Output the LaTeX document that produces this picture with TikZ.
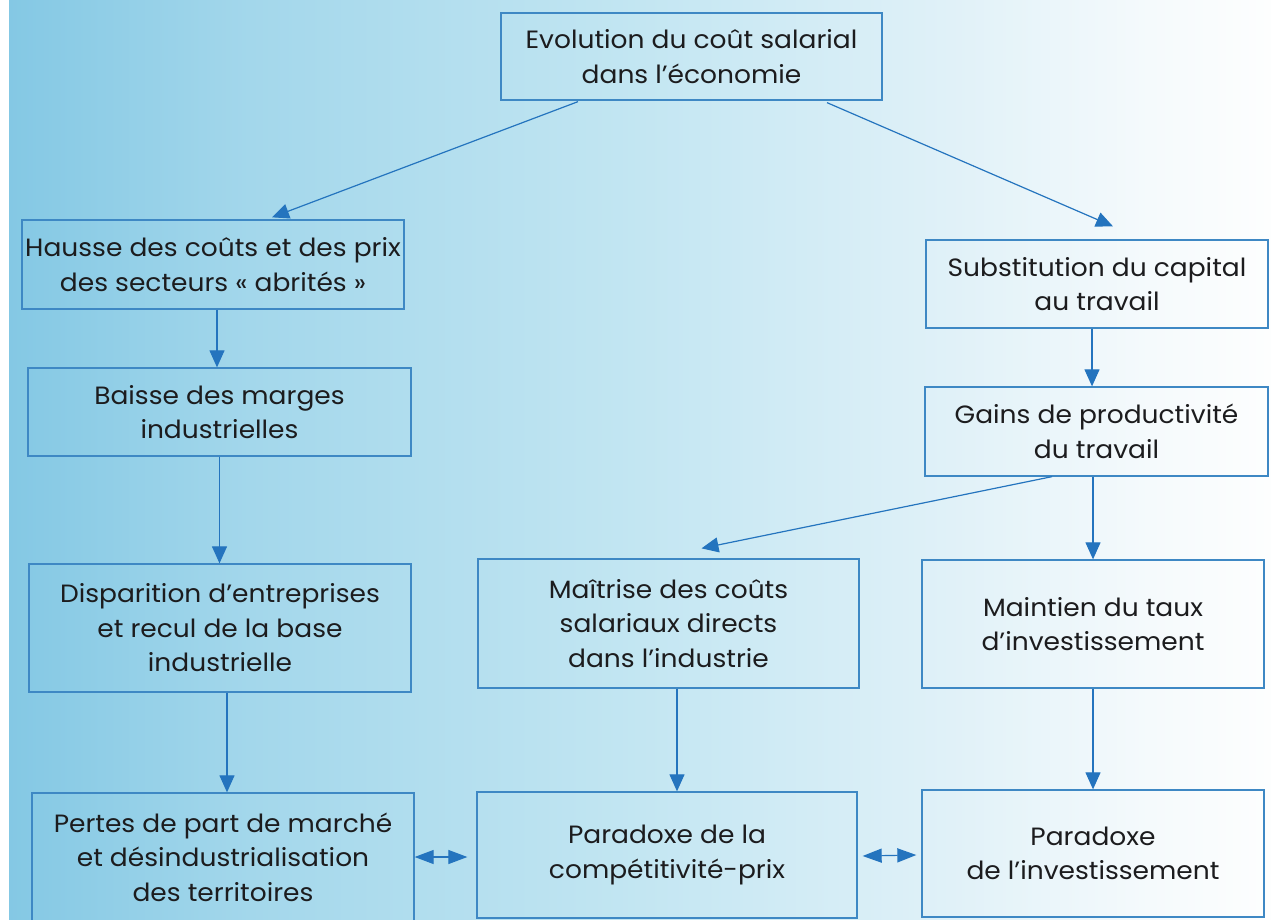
\documentclass[tikz,border=0pt]{standalone}
\usepackage{fontspec}
\setmainfont[Ligatures=NoCommon,FakeStretch=1.06]{Poppins}
\usetikzlibrary{arrows.meta,calc}
\definecolor{boxc}{RGB}{62,136,196}
\definecolor{arrc}{RGB}{36,116,190}
\definecolor{txt}{RGB}{28,28,30}
\definecolor{bgA}{RGB}{132,200,228}
\definecolor{bgB}{RGB}{163,215,235}
\definecolor{bgC}{RGB}{195,230,242}
\definecolor{bgD}{RGB}{224,241,248}
\definecolor{bgE}{RGB}{245,250,252}
\definecolor{bgF}{RGB}{253,254,254}
\pgfdeclarehorizontalshading{bgshade}{100bp}{color(0bp)=(bgA); color(25.35bp)=(bgA); color(34.8bp)=(bgB); color(50.2bp)=(bgC); color(62.4bp)=(bgD); color(70.2bp)=(bgE); color(75bp)=(bgF); color(100bp)=(bgF)}
\tikzset{
  box/.style={draw=boxc, line width=1.3pt, align=center, inner sep=0pt,
    text=txt, font=\fontsize{25}{34.5}\selectfont},
  arr/.style={draw=arrc, line width=1.2pt, -{Triangle[length=17pt,width=15pt]}},
  darr/.style={draw=arrc, line width=1.2pt, {Triangle[length=19pt,width=14pt]}-{Triangle[length=19pt,width=14pt]}}
}
\begin{document}
\begin{tikzpicture}[x=1pt,y=-1pt]
\useasboundingbox (0,0) rectangle (1271,920);
\clip (0,0) rectangle (1271,920);
\shade[shading=bgshade] (0,0) rectangle (1271,920);
\fill[white] (0,0) rectangle (9,920);

\node[box, minimum width=381pt, minimum height=87pt] (top) at (691.5,56.5) {Evolution du coût salarial\\dans l’économie};
\node[box, minimum width=382pt, minimum height=89pt] (hausse) at (213,264.5) {Hausse des coûts et des prix\\des secteurs « abrités »};
\node[box, minimum width=342pt, minimum height=88pt] (subst) at (1097,284) {Substitution du capital\\au travail};
\node[box, minimum width=383pt, minimum height=88pt] (baisse) at (219.5,412) {Baisse des marges\\industrielles};
\node[box, minimum width=343pt, minimum height=89pt] (gains) at (1096.5,431.5) {Gains de productivité\\du travail};
\node[box, minimum width=382pt, minimum height=128pt] (disp) at (220,628) {Disparition d’entreprises\\et recul de la base\\industrielle};
\node[box, minimum width=381pt, minimum height=129pt] (maitrise) at (668.5,623.5) {Maîtrise des coûts\\salariaux directs\\dans l’industrie};
\node[box, minimum width=342pt, minimum height=128pt] (maintien) at (1093,624) {Maintien du taux\\d’investissement};
\node[box, minimum width=382pt, minimum height=128pt] (pertes) at (223,857) {Pertes de part de marché\\et désindustrialisation\\des territoires};
\node[box, minimum width=380pt, minimum height=126pt] (paradoxe) at (667,855) {Paradoxe de la\\compétitivité-prix};
\node[box, minimum width=342pt, minimum height=127pt] (parinv) at (1093,853.5) {Paradoxe\\de l’investissement};

\draw[arr] ([xshift=-113.5pt,yshift=-1pt]top.south) -- ([xshift=59pt,yshift=2pt]hausse.north);
\draw[arr] ([xshift=135.5pt,yshift=-2pt]top.south) -- ([xshift=16pt,yshift=13pt]subst.north);
\draw[arr] ([xshift=4pt]hausse.south) -- ([xshift=-2.5pt]baisse.north);
\draw[arr] (baisse.south) -- (baisse.south |- disp.north);
\draw[arr] ([xshift=7pt]disp.south) -- ([xshift=4pt]pertes.north);
\draw[arr] ([xshift=-5pt]subst.south) -- ([xshift=-4.5pt]gains.north);
\draw[arr] ([xshift=-3.5pt]gains.south) -- (maintien.north);
\draw[arr] ([xshift=-44.5pt]gains.south) -- ([xshift=33pt,yshift=10pt]maitrise.north);
\draw[arr] ([xshift=8.5pt]maitrise.south) -- ([xshift=10pt]paradoxe.north);
\draw[arr] (maintien.south) -- (parinv.north);
\draw[darr] (pertes.east) -- ([xshift=-9pt]paradoxe.west |- pertes.east);
\draw[darr] ([xshift=5pt,yshift=-1pt]paradoxe.east) -- ([xshift=-5pt]parinv.west |- paradoxe.east);
\end{tikzpicture}
\end{document}
